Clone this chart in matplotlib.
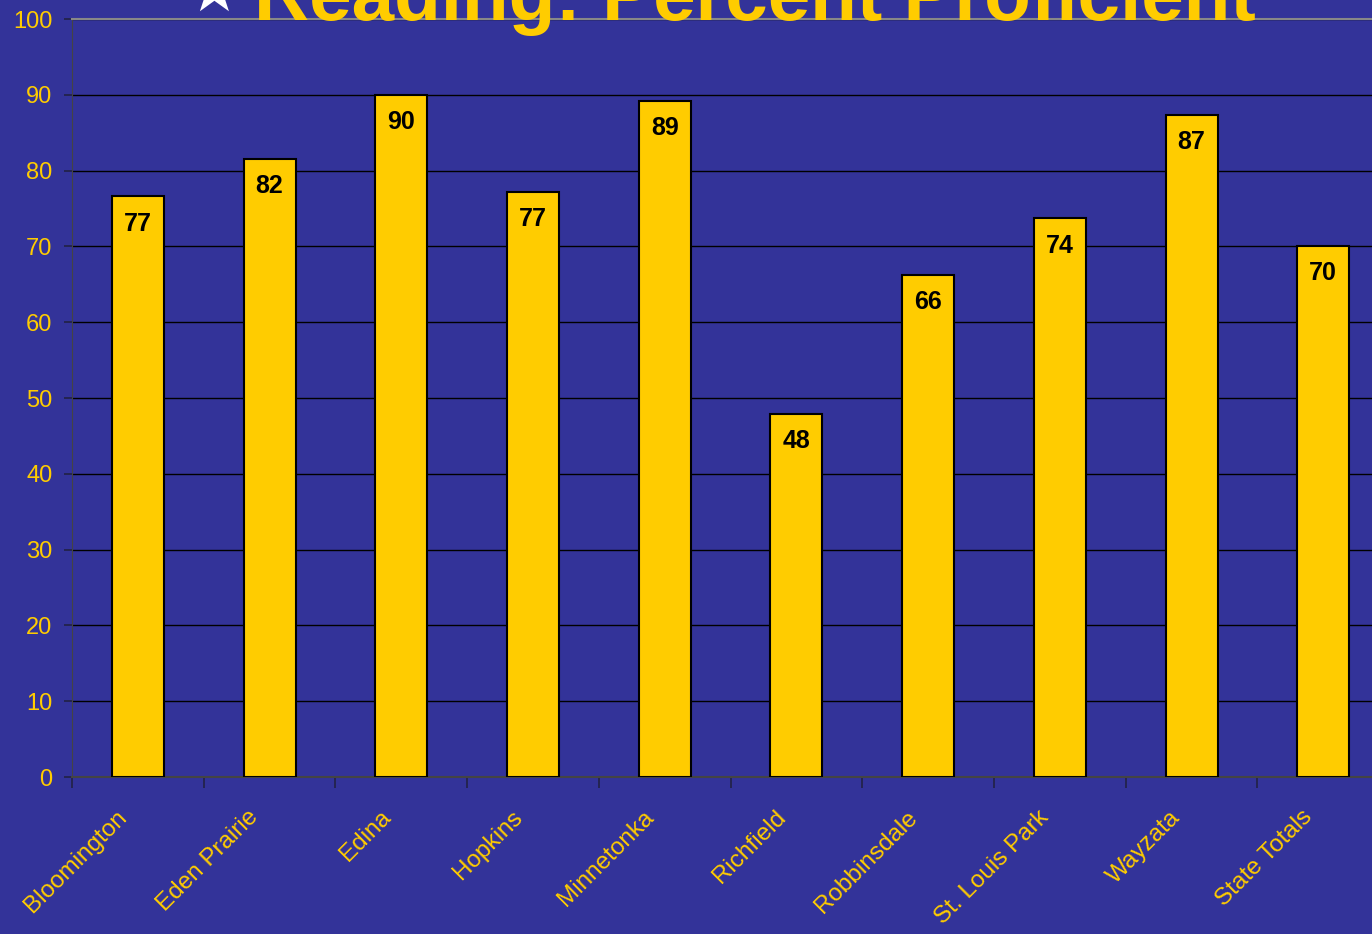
import matplotlib.pyplot as plt

districts = [
    "Bloomington", "Eden Prairie", "Edina", "Hopkins", "Minnetonka",
    "Richfield", "Robbinsdale", "St. Louis Park", "Wayzata", "State Totals",
]
pct_proficient = [76.6, 81.6, 90.0, 77.2, 89.2, 47.9, 66.3, 73.7, 87.4, 70.1]

BG = "#333399"
GOLD = "#FFCC00"

plt.rcParams["font.family"] = ["Liberation Sans", "DejaVu Sans"]

fig = plt.figure(figsize=(13.72, 9.34), dpi=100, facecolor=BG)
ax = fig.add_axes([0.0525, 0.168, 0.96, 0.8116], facecolor=BG)

x = list(range(len(districts)))
bars = ax.bar(x, pct_proficient, width=0.395, color=GOLD,
              edgecolor="black", linewidth=1.5, zorder=3)

for b, v in zip(bars, pct_proficient):
    ax.text(b.get_x() + b.get_width() / 2, v - 3.6, f"{v:.0f}",
            ha="center", va="center", fontsize=18, fontweight="bold",
            color="black", zorder=4)

ax.set_xlim(-0.5, len(districts) - 0.5)
ax.set_ylim(0, 100)
ax.set_yticks(range(0, 101, 10))
ax.yaxis.grid(True, color="black", linewidth=1.0, zorder=0)
ax.set_axisbelow(True)

# labels sit a little left of the bar centre (slanted text ends just before it)
ax.set_xticks([i - 0.167 for i in x])
ax.set_xticklabels(districts, rotation=45, ha="right",
                   rotation_mode="anchor", fontsize=17.5, color=GOLD)
ax.set_xticks([i - 0.5 for i in x], minor=True)
ax.tick_params(axis="x", which="major", length=0, pad=21)
ax.tick_params(axis="x", which="minor", length=8, color="#222244", width=1.2)
ax.tick_params(axis="y", labelsize=17, labelcolor=GOLD, length=6,
               color="#222244", width=1.2, pad=8)

ax.spines["right"].set_visible(False)
ax.spines["top"].set_color("#888888")
ax.spines["top"].set_linewidth(1.5)
ax.spines["left"].set_color("#444444")
ax.spines["bottom"].set_color("#444444")
ax.spines["bottom"].set_linewidth(1.5)

# title sits mostly above the top edge of the image, as in the original slide
fig.text(254 / 1372, 1 - 20 / 934, "Reading: Percent Proficient",
         fontsize=55, fontweight="bold", color=GOLD,
         ha="left", va="baseline", zorder=5)
fig.text(213 / 1372, 1 - 11 / 934, "\u2605", family=["DejaVu Sans"],
         fontsize=44, color="white", ha="center", va="baseline", zorder=5)

fig.savefig("out.png", dpi=100, facecolor=BG)
